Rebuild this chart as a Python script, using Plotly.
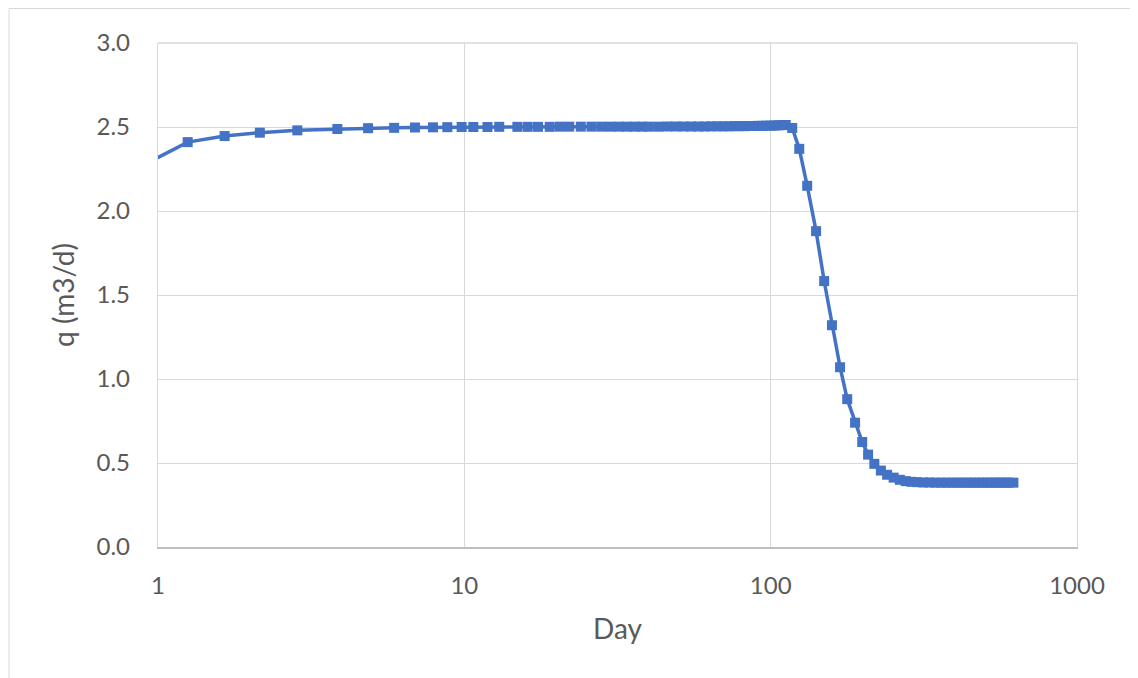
import plotly.graph_objects as go

days = [0.75, 1.25, 1.65, 2.15, 2.85, 3.85, 4.85, 5.9, 6.9, 7.9, 8.8, 9.8,
        10.7, 11.9, 13.0, 14.9, 16.1, 17.4, 19.0, 20.5, 22, 24, 26, 28, 30,
        32, 34, 36, 38, 40, 43, 46, 49, 52, 55, 58, 61, 64, 67, 70, 73, 76,
        79, 82, 85, 88, 91, 94, 97, 100, 103, 106, 109, 112,
        117.6, 124, 131.6, 140.7, 149.5, 158.5, 168.5, 177.8, 188.6, 199,
        208, 218, 229, 240, 252, 264, 276, 288, 300, 315, 330, 345, 360,
        375, 390, 405, 420, 435, 450, 465, 480, 495, 510, 525, 540, 555,
        570, 585, 600, 620]

q = [2.20, 2.41, 2.446, 2.466, 2.48, 2.488, 2.493, 2.495, 2.497, 2.498,
     2.499, 2.5, 2.5, 2.5, 2.501, 2.501, 2.501, 2.501, 2.501, 2.502, 2.502,
     2.502, 2.502, 2.502, 2.502, 2.502, 2.502, 2.502, 2.502, 2.502, 2.502,
     2.503, 2.503, 2.503, 2.503, 2.503, 2.503, 2.504, 2.504, 2.504, 2.504,
     2.505, 2.505, 2.505, 2.506, 2.506, 2.507, 2.507, 2.508, 2.508, 2.509,
     2.51, 2.511, 2.512,
     2.494, 2.37, 2.15, 1.88, 1.583, 1.32, 1.07, 0.88, 0.74, 0.625,
     0.55, 0.495, 0.455, 0.43, 0.413, 0.40, 0.392, 0.388, 0.386, 0.384,
     0.384, 0.383, 0.383, 0.383, 0.383, 0.383, 0.383, 0.383, 0.383, 0.383,
     0.383, 0.383, 0.383, 0.383, 0.383, 0.383, 0.383, 0.383, 0.383, 0.383,
     0.383, 0.383]

x_ticks = [1, 10, 100, 1000]
x_tick_text = ["1", "10", "100", "1000"]
y_ticks = [0.0, 0.5, 1.0, 1.5, 2.0, 2.5, 3.0]

color = "#4472C4"
font = "Lato"
txt = "#595959"
grid = "#d9d9d9"

fig = go.Figure()
fig.add_trace(go.Scatter(
    x=days, y=q, mode="lines+markers",
    line=dict(color=color, width=3.5),
    marker=dict(symbol="square", size=10, color=color),
    showlegend=False,
))

# page body adds an 8px offset; figure is sized to compensate
W, H = 1130, 670
L, T = 150, 35
pw, ph = 919, 504
R, B = W - L - pw, H - T - ph

fig.update_layout(
    width=W, height=H,
    margin=dict(l=L, r=R, t=T, b=B),
    paper_bgcolor="white", plot_bgcolor="white",
    font=dict(family=font, size=24, color=txt),
    xaxis=dict(
        type="log", range=[0, 3],
        tickvals=x_ticks, ticktext=x_tick_text,
        showgrid=True, gridcolor=grid, gridwidth=1.3,
        showline=True, linecolor="#bfbfbf", linewidth=1.5,
        ticks="outside", ticklen=16, tickcolor="rgba(0,0,0,0)",
        zeroline=False,
        title=dict(text="Day", font=dict(size=28, color=txt), standoff=22),
    ),
    yaxis=dict(
        range=[0, 3], tickvals=y_ticks, tickformat=".1f",
        showgrid=True, gridcolor=grid, gridwidth=1.3,
        showline=True, linecolor=grid, linewidth=1.3, mirror=True,
        zeroline=False,
        ticks="outside", ticklen=22, tickcolor="rgba(0,0,0,0)",
        title=dict(text="q (m3/d)", font=dict(size=28, color=txt), standoff=13),
    ),
    shapes=[
        dict(
            type="rect", xref="paper", yref="paper",
            x0=(1 - L) / pw, x1=(W + 20 - L) / pw,
            y0=(T + ph - (H + 20)) / ph, y1=(T + ph - 0.5) / ph,
            line=dict(color=grid, width=1), fillcolor="rgba(0,0,0,0)",
            layer="below",
        ),
        dict(
            type="line", xref="paper", yref="paper",
            x0=0, x1=1, y0=1, y1=1,
            line=dict(color=grid, width=1.3), layer="below",
        ),
    ],
)

fig.write_html("out.html")
